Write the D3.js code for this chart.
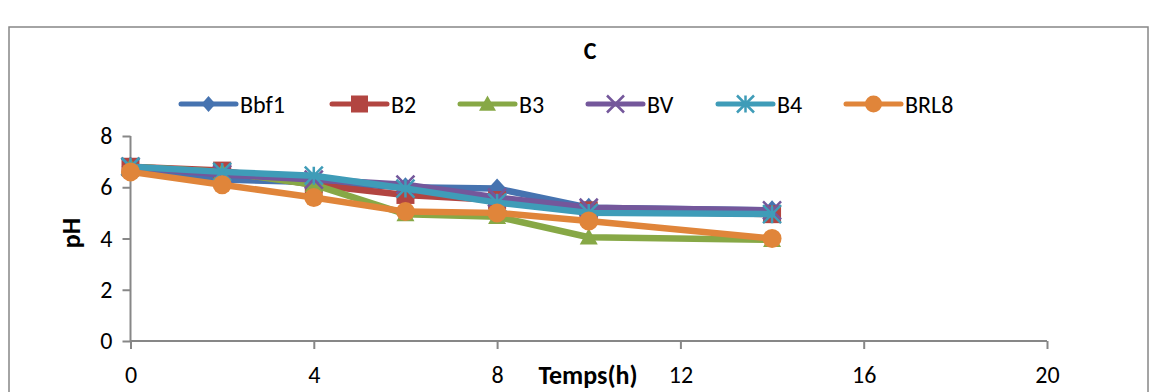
<!DOCTYPE html>
<html><head><meta charset="utf-8">
<script src="https://cdn.jsdelivr.net/npm/d3@7"></script>
<style>body{margin:0;background:#fff}svg{display:block}text{font-family:Carlito,Lato,"Liberation Sans",sans-serif}</style>
</head><body>
<svg id="c" width="1158" height="392"></svg>
<script>
const times = [0, 2, 4, 6, 8, 10, 14];
const seriesNames = ["Bbf1", "B2", "B3", "BV", "B4", "BRL8"];
const bbf1 = [6.8, 6.3, 6.2, 6.0, 5.95, 5.2, 5.1];
const b2 = [6.8, 6.65, 6.1, 5.7, 5.5, 5.1, 4.95];
const b3 = [6.8, 6.6, 6.1, 4.95, 4.85, 4.05, 3.95];
const bv = [6.8, 6.5, 6.3, 6.1, 5.6, 5.2, 5.1];
const b4 = [6.8, 6.6, 6.45, 5.95, 5.4, 5.0, 4.95];
const brl8 = [6.6, 6.1, 5.6, 5.05, 5.0, 4.68, 4.0];
const xTicks = [0, 4, 8, 12, 16, 20];
const yTicks = [0, 2, 4, 6, 8];
const titleText = "C";
const xTitle = "Temps(h)";
const yTitle = "pH";

const colors = ["#4673b0", "#b24541", "#87a846", "#74579b", "#3f9cb8", "#e0853a"];
const shapes = ["diamond", "square", "triangle", "x", "star", "circle"];
const values = [bbf1, b2, b3, bv, b4, brl8];

const svg = d3.select("#c");
const x = d3.scaleLinear().domain([0, 20]).range([130.5, 1047]);
const y = d3.scaleLinear().domain([0, 8]).range([341, 136]);
const grey = "#878787";
const fontFam = "Carlito,Lato,'Liberation Sans',sans-serif";

// outer frame
svg.append("rect").attr("x", 9).attr("y", 27).attr("width", 1139).attr("height", 400)
  .attr("fill", "none").attr("stroke", grey).attr("stroke-width", 1.5);

// title
svg.append("text").attr("x", 590).attr("y", 59).attr("text-anchor", "middle")
  .attr("font-size", 24).attr("font-weight", "bold").text(titleText);

// axes
const yAxis = d3.axisLeft(y).tickValues(yTicks).tickSize(8).tickPadding(10).tickFormat(d3.format("d"));
const gy = svg.append("g").attr("transform", `translate(${x(0)},0)`).call(yAxis);
const xAxis = d3.axisBottom(x).tickValues(xTicks).tickSize(8).tickPadding(17).tickFormat(d3.format("d"));
const gx = svg.append("g").attr("transform", `translate(0,${y(0)})`).call(xAxis);
[gx, gy].forEach(g => {
  g.select(".domain").attr("stroke", grey).attr("stroke-width", 2);
  g.selectAll(".tick line").attr("stroke", grey).attr("stroke-width", 2);
  g.selectAll(".tick text").attr("font-size", 24).attr("fill", "#000").style("font-family", fontFam);
});
gy.select(".domain").attr("d", `M0,${y(8)}V${y(0)}`);
gy.selectAll(".tick line").attr("x2", -8);
gx.select(".domain").attr("d", `M${x(0)},0H${x(20)}`);

svg.append("text").attr("x", 588).attr("y", 384).attr("text-anchor", "middle")
  .attr("font-size", 26).attr("font-weight", "bold").text(xTitle);
svg.append("text").attr("transform", "translate(80,233) rotate(-90)").attr("text-anchor", "middle")
  .attr("font-size", 26).attr("font-weight", "bold").text(yTitle);

function drawMarker(g, shape, cx, cy, color, s) {
  const h = s / 2;
  if (shape === "diamond") {
    g.append("path").attr("d", `M${cx},${cy - h - 1}L${cx + h},${cy}L${cx},${cy + h + 1}L${cx - h},${cy}Z`).attr("fill", color);
  } else if (shape === "square") {
    g.append("rect").attr("x", cx - h).attr("y", cy - h).attr("width", s).attr("height", s).attr("fill", color);
  } else if (shape === "triangle") {
    g.append("path").attr("d", `M${cx},${cy - h}L${cx + h},${cy + h * 0.8}L${cx - h},${cy + h * 0.8}Z`).attr("fill", color);
  } else if (shape === "circle") {
    g.append("circle").attr("cx", cx).attr("cy", cy).attr("r", h).attr("fill", color);
  } else if (shape === "x") {
    g.append("path").attr("d", `M${cx - h},${cy - h}L${cx + h},${cy + h}M${cx + h},${cy - h}L${cx - h},${cy + h}`)
      .attr("stroke", color).attr("stroke-width", 2.5).attr("fill", "none");
  } else if (shape === "star") {
    g.append("path").attr("d", `M${cx - h},${cy - h}L${cx + h},${cy + h}M${cx + h},${cy - h}L${cx - h},${cy + h}M${cx},${cy - h}V${cy + h}`)
      .attr("stroke", color).attr("stroke-width", 2.5).attr("fill", "none");
  }
}

const line = d3.line().x(d => x(d[0])).y(d => y(d[1]));
values.forEach((vals, i) => {
  const g = svg.append("g");
  const pts = times.map((t, j) => [t, vals[j]]);
  g.append("path").attr("d", line(pts)).attr("fill", "none").attr("stroke", colors[i])
    .attr("stroke-width", 6.5).attr("stroke-linejoin", "round").attr("stroke-linecap", "round");
  pts.forEach(p => drawMarker(g, shapes[i], x(p[0]), y(p[1]), colors[i], shapes[i] === "circle" ? 19 : 18));
});

// legend
const legendX = [181, 332, 460, 588, 718, 846];
seriesNames.forEach((n, i) => {
  const g = svg.append("g");
  const x0 = legendX[i], yy = 104;
  g.append("line").attr("x1", x0).attr("x2", x0 + 55).attr("y1", yy).attr("y2", yy)
    .attr("stroke", colors[i]).attr("stroke-width", 5).attr("stroke-linecap", "round");
  drawMarker(g, shapes[i], x0 + 27.5, yy, colors[i], shapes[i] === "diamond" ? 14 : 17);
  g.append("text").attr("x", x0 + 59).attr("y", yy + 8.5).attr("font-size", 24).text(n);
});
</script>
</body></html>
